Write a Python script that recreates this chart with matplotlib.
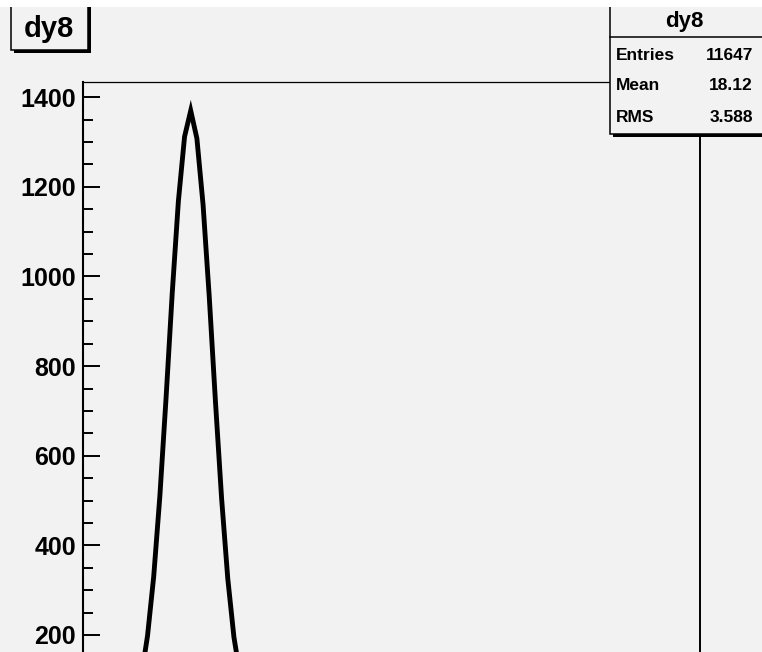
import matplotlib
matplotlib.use("Agg")
import matplotlib.pyplot as plt
import numpy as np
from matplotlib.patches import Rectangle
from matplotlib.ticker import MultipleLocator

# histogram "dy8": 100 bins from 0 to 100, contents
bin_edges = np.arange(0, 101, 1)
counts = [0, 0, 0, 0, 2, 5, 12, 27, 56, 108,
          198, 330, 510, 728, 962, 1168, 1312, 1370, 1308, 1160,
          955, 722, 505, 326, 195, 110, 56, 27, 12, 5,
          2, 1, 0, 0, 0, 0, 0, 0, 0, 0] + [0] * 60

stat_names = ["Entries", "Mean", "RMS"]
stat_values = ["11647", "18.12", "3.588"]
hist_title = "dy8"
yticks_major = [200, 400, 600, 800, 1000, 1200, 1400]

W, H = 762, 652
BG = "#f2f2f2"
FONT = "Liberation Sans"


def fx(x):
    return x / W


def fy(y):
    return 1 - y / H


fig = plt.figure(figsize=(W / 100, H / 100), dpi=100, facecolor=BG)

# frame: left 82.7px, right 700px, top 82px, value 0 lies below the crop
ax = fig.add_axes([fx(82.7), fy(724.6), fx(700) - fx(82.7), fy(82) - fy(724.6)])
ax.set_facecolor(BG)
centers = 0.5 * (bin_edges[:-1] + bin_edges[1:])
ax.plot(centers, counts, color="black", lw=3.5, solid_joinstyle="miter")
ax.set_xlim(0, 100)
ax.set_ylim(0, 1434)

ax.yaxis.set_minor_locator(MultipleLocator(50))
ax.set_yticks(yticks_major)
ax.set_yticklabels([str(v) for v in yticks_major], fontfamily=FONT,
                   fontweight="bold", fontsize=18)
ax.tick_params(axis="y", which="major", direction="in", length=12.5,
               width=1.4, pad=5)
ax.tick_params(axis="y", which="minor", direction="in", length=7.2, width=1.4)
ax.set_xticks([])
ax.spines["left"].set_linewidth(1.5)
ax.spines["right"].set_linewidth(1.4)
ax.spines["top"].set_linewidth(0.9)
ax.spines["bottom"].set_linewidth(1.4)


def box(x0, y0, x1, y1, shadow=3):
    # ROOT style pave with a shadow to the lower right
    fig.add_artist(Rectangle((fx(x0 + shadow), fy(y1 + shadow)),
                             fx(x1 - x0), fy(y0) - fy(y1),
                             transform=fig.transFigure, facecolor="black",
                             edgecolor="none", zorder=5))
    fig.add_artist(Rectangle((fx(x0), fy(y1)), fx(x1 - x0), fy(y0) - fy(y1),
                             transform=fig.transFigure, facecolor=BG,
                             edgecolor="black", lw=1.1, zorder=6))


# title box
box(11, -5, 88, 50)
fig.text(fx(49), fy(29), hist_title, fontfamily=FONT, fontweight="bold",
         fontsize=21, ha="center", va="center", zorder=7)

# stats box
box(610, -5, 770, 134)
fig.add_artist(plt.Line2D([fx(610), fx(770)], [fy(37), fy(37)],
                          transform=fig.transFigure, color="black", lw=1.1,
                          zorder=7))
fig.text(fx(684), fy(22), hist_title, fontfamily=FONT, fontweight="bold",
         fontsize=16, ha="center", va="center", zorder=7)
row_y = [55, 86, 117]
for name, val, yy in zip(stat_names, stat_values, row_y):
    fig.text(fx(616), fy(yy), name, fontfamily=FONT, fontweight="bold",
             fontsize=12.5, ha="left", va="center", zorder=7)
    fig.text(fx(753), fy(yy), val, fontfamily=FONT, fontweight="bold",
             fontsize=12.5, ha="right", va="center", zorder=7)

# white band from the screenshot crop at the top
fig.add_artist(Rectangle((0, fy(7)), 1, 7 / H, transform=fig.transFigure,
                         facecolor="white", edgecolor="none", zorder=10))

fig.savefig("out.png", dpi=100, facecolor=BG)
